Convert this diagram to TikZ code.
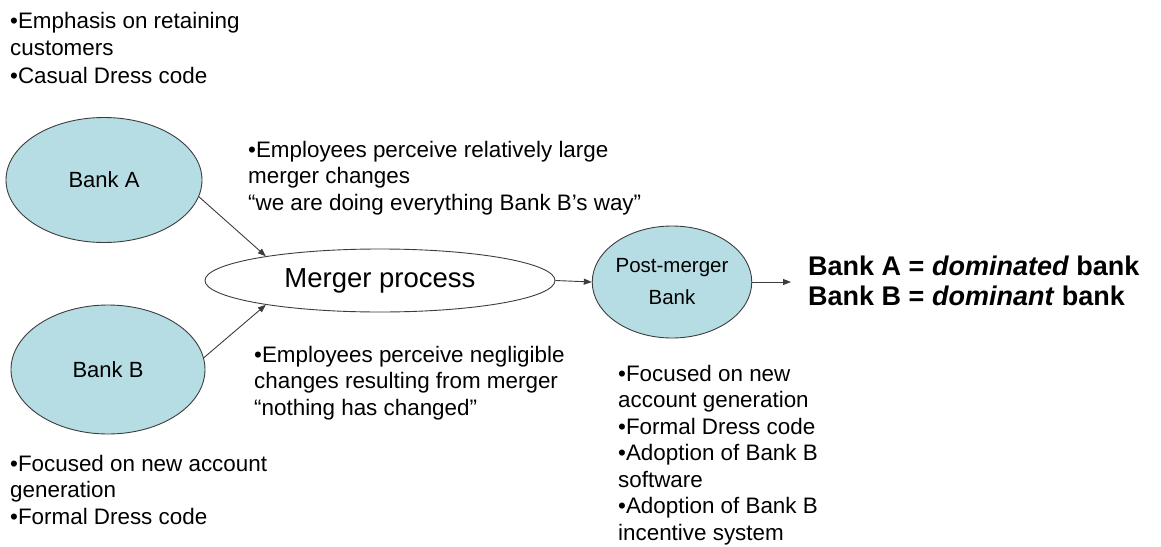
\documentclass[tikz,border=0pt]{standalone}
\usepackage{fontspec}
\setmainfont{Liberation Sans}
\usetikzlibrary{shapes.geometric,arrows.meta}
\definecolor{bankfill}{RGB}{183,221,228}
\definecolor{edge}{RGB}{60,60,60}
\tikzset{
  bank/.style={ellipse, draw=edge, line width=0.9pt, fill=bankfill, inner sep=0pt,
    font=\fontsize{22}{26}\selectfont, align=center},
  note/.style={anchor=north west, inner sep=0pt, align=left,
    font=\fontsize{22.4}{26.5}\selectfont},
  arr/.style={draw=edge, line width=0.9pt, -{Triangle[length=8pt,width=6pt]}}
}
\begin{document}
\begin{tikzpicture}[x=1pt,y=-1pt]
\useasboundingbox (0,0) rectangle (1161,546);

% ellipses
\node[bank, minimum width=196pt, minimum height=125pt] (bankA) at (104,180) {Bank A};
\node[bank, minimum width=194pt, minimum height=129pt] (bankB) at (108,369.5) {Bank B};
\node[ellipse, draw=edge, line width=0.9pt, fill=white, inner sep=0pt,
  minimum width=350pt, minimum height=63pt, font=\fontsize{27.5}{30}\selectfont]
  (merger) at (380,280.5) {Merger process};
\node[bank, minimum width=138pt, minimum height=112pt, font=\fontsize{20.5}{32}\selectfont]
  (post) at (672,282) {Post-merger\\Bank};

% notes (placed by the top of their first line)
\node[note, font=\fontsize{22.4}{27.5}\selectfont] (noteA) at (10,12)
  {•Emphasis on retaining\\customers\\•Casual Dress code};
\node[note] (large) at (248,141)
  {•Employees perceive relatively large\\merger changes\\“we are doing everything Bank B’s way”};
\node[note] (small) at (254,346)
  {•Employees perceive negligible\\changes resulting from merger\\“nothing has changed”};
\node[note] (noteB) at (10,455)
  {•Focused on new account\\generation\\•Formal Dress code};
\node[note] (notePost) at (618,365)
  {•Focused on new\\account generation\\•Formal Dress code\\•Adoption of Bank B\\software\\•Adoption of Bank B\\incentive system};
\node[note, font=\bfseries\fontsize{27}{29.5}\selectfont] (dom) at (808,256)
  {Bank A = \textit{dominated} bank\\Bank B = \textit{dominant} bank};

% connectors
\draw[arr] (bankA.-10) -- (merger.168);
\draw[arr] (bankB.7) -- (merger.192);
\draw[arr] (merger.east) -- (post.west);
\draw[arr, shorten >=17pt] (post.east) -- (post.east -| dom.west);
\end{tikzpicture}
\end{document}
